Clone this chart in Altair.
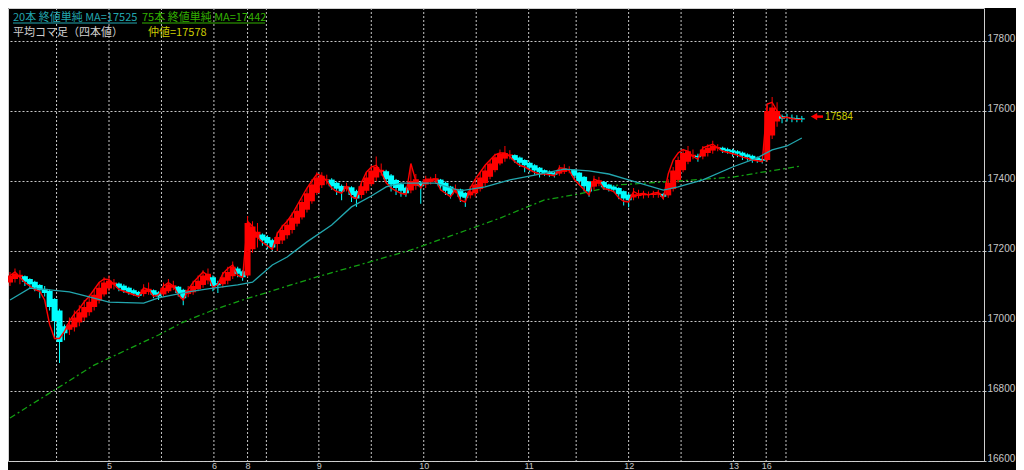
import altair as alt
import pandas as pd

# ---------------- data ----------------
opens = [
    17110, 17120, 17125, 17128, 17120, 17112, 17103, 17092, 17086, 17063,
    17030, 16985, 16975, 16982, 16996, 17010, 17025, 17040, 17058, 17076,
    17093, 17104, 17107, 17101, 17095, 17088, 17083, 17077, 17083, 17088,
    17082, 17076, 17085, 17095, 17098, 17089, 17077, 17082, 17091, 17103,
    17116, 17125, 17108, 17105, 17115, 17128, 17150, 17142, 17130, 17205,
    17238, 17247, 17240, 17231, 17220, 17230, 17245, 17260, 17278, 17296,
    17318, 17342, 17366, 17388, 17402, 17404, 17395, 17386, 17378, 17382,
    17371, 17360, 17372, 17391, 17410, 17425, 17428, 17416, 17403, 17391,
    17381, 17373, 17386, 17395, 17390, 17397, 17401, 17404, 17395, 17384,
    17373, 17376, 17366, 17359, 17365, 17377, 17394, 17412, 17431, 17450,
    17464, 17472, 17474, 17467, 17460, 17452, 17445, 17438, 17431, 17427,
    17424, 17421, 17426, 17431, 17432, 17424, 17412, 17398, 17384, 17392,
    17397, 17390, 17384, 17380, 17371, 17361, 17353, 17357, 17359, 17360,
    17360, 17361, 17363, 17359, 17377, 17403, 17431, 17455, 17470, 17472,
    17470, 17480, 17487, 17493, 17495, 17491, 17488, 17485, 17481, 17476,
    17472, 17467, 17463, 17460, 17530, 17570, 17585, 17582, 17581, 17580, 17579,
]
closes = [
    17130, 17135, 17132, 17112, 17105, 17095, 17088, 17080, 17040, 17000,
    16940, 16965, 16990, 17010, 17025, 17040, 17055, 17075, 17095, 17110,
    17115, 17110, 17095, 17088, 17082, 17078, 17072, 17090, 17092, 17075,
    17070, 17095, 17105, 17102, 17080, 17065, 17088, 17100, 17115, 17130,
    17135, 17100, 17102, 17125, 17140, 17155, 17135, 17125, 17280, 17270,
    17255, 17230, 17222, 17210, 17240, 17260, 17275, 17295, 17315, 17340,
    17365, 17390, 17410, 17415, 17405, 17385, 17378, 17370, 17385, 17360,
    17350, 17385, 17410, 17430, 17440, 17432, 17405, 17390, 17380, 17372,
    17365, 17400, 17405, 17385, 17405, 17405, 17408, 17385, 17372, 17362,
    17378, 17355, 17352, 17370, 17390, 17410, 17430, 17450, 17468, 17478,
    17480, 17476, 17460, 17452, 17445, 17438, 17430, 17425, 17423, 17420,
    17418, 17432, 17436, 17433, 17415, 17400, 17385, 17370, 17400, 17402,
    17382, 17378, 17375, 17362, 17350, 17345, 17362, 17362, 17363, 17362,
    17363, 17365, 17355, 17395, 17430, 17460, 17480, 17485, 17475, 17468,
    17490, 17495, 17500, 17497, 17488, 17485, 17482, 17478, 17472, 17468,
    17462, 17460, 17458, 17600, 17610, 17600, 17578, 17580, 17578, 17577, 17576,
]
highs = [
    17140, 17150, 17145, 17130, 17122, 17115, 17105, 17100, 17090, 17065,
    17035, 16990, 17010, 17030, 17045, 17060, 17075, 17090, 17110, 17125,
    17130, 17120, 17110, 17105, 17098, 17092, 17086, 17105, 17110, 17090,
    17085, 17110, 17120, 17115, 17100, 17092, 17100, 17115, 17130, 17145,
    17150, 17130, 17115, 17140, 17155, 17170, 17155, 17145, 17300, 17285,
    17280, 17250, 17245, 17235, 17255, 17275, 17290, 17310, 17330, 17350,
    17380, 17405, 17425, 17425, 17418, 17408, 17398, 17390, 17395, 17385,
    17375, 17400, 17425, 17445, 17470, 17450, 17432, 17420, 17406, 17395,
    17384, 17440, 17420, 17400, 17415, 17412, 17420, 17406, 17398, 17386,
    17390, 17378, 17368, 17385, 17405, 17425, 17445, 17460, 17478, 17490,
    17500, 17488, 17476, 17470, 17462, 17455, 17448, 17440, 17433, 17430,
    17426, 17445, 17448, 17442, 17434, 17426, 17414, 17400, 17415, 17412,
    17400, 17392, 17388, 17382, 17373, 17365, 17380, 17375, 17372, 17370,
    17372, 17375, 17366, 17405, 17440, 17470, 17490, 17500, 17490, 17478,
    17500, 17505, 17515, 17505, 17498, 17495, 17492, 17488, 17484, 17479,
    17475, 17470, 17466, 17615, 17640, 17625, 17590, 17592, 17590, 17588, 17586,
]
lows = [
    17100, 17110, 17105, 17100, 17095, 17085, 17065, 17070, 17030, 16950,
    16880, 16945, 16960, 16970, 16985, 17000, 17015, 17030, 17050, 17070,
    17085, 17090, 17085, 17080, 17075, 17072, 17066, 17070, 17075, 17065,
    17060, 17070, 17080, 17088, 17070, 17045, 17068, 17075, 17085, 17095,
    17105, 17085, 17080, 17095, 17105, 17120, 17125, 17115, 17125, 17195,
    17210, 17215, 17205, 17200, 17200, 17220, 17235, 17250, 17270, 17290,
    17310, 17335, 17360, 17380, 17390, 17375, 17360, 17345, 17370, 17340,
    17326, 17350, 17365, 17385, 17400, 17415, 17395, 17370, 17360, 17355,
    17355, 17365, 17375, 17335, 17380, 17390, 17392, 17375, 17360, 17350,
    17365, 17340, 17326, 17350, 17355, 17370, 17385, 17405, 17425, 17445,
    17455, 17462, 17452, 17440, 17425, 17425, 17418, 17410, 17415, 17412,
    17410, 17415, 17420, 17422, 17405, 17390, 17370, 17355, 17375, 17385,
    17375, 17370, 17368, 17348, 17330, 17325, 17345, 17350, 17350, 17352,
    17352, 17352, 17348, 17352, 17370, 17395, 17425, 17448, 17462, 17455,
    17462, 17470, 17478, 17485, 17480, 17478, 17470, 17468, 17460, 17458,
    17452, 17452, 17450, 17455, 17520, 17555, 17565, 17570, 17568, 17568, 17568,
]
# thin red line (raw price line)
price_line = [
    17130, 17140, 17125, 17110, 17100, 17090, 17085, 17060, 16990, 16950,
    16950, 16970, 17000, 17020, 17035, 17055, 17070, 17090, 17110, 17120,
    17118, 17105, 17090, 17085, 17080, 17075, 17070, 17095, 17090, 17070,
    17075, 17100, 17110, 17100, 17075, 17060, 17090, 17110, 17125, 17140,
    17130, 17095, 17105, 17135, 17150, 17160, 17130, 17125, 17285, 17270,
    17240, 17225, 17215, 17205, 17250, 17270, 17285, 17305, 17330, 17355,
    17380, 17400, 17420, 17415, 17400, 17380, 17370, 17365, 17385, 17355,
    17350, 17395, 17425, 17440, 17445, 17425, 17395, 17380, 17372, 17365,
    17362, 17450, 17400, 17380, 17405, 17405, 17405, 17375, 17365, 17355,
    17375, 17345, 17340, 17380, 17405, 17425, 17445, 17460, 17475, 17480,
    17480, 17470, 17455, 17445, 17440, 17432, 17425, 17420, 17420, 17418,
    17415, 17438, 17436, 17430, 17405, 17390, 17375, 17360, 17405, 17400,
    17378, 17375, 17370, 17352, 17342, 17340, 17370, 17362, 17365, 17360,
    17365, 17368, 17350, 17420, 17460, 17480, 17490, 17485, 17470, 17462,
    17495, 17500, 17505, 17495, 17485, 17482, 17478, 17474, 17468, 17465,
    17460, 17458, 17455, 17620, 17625, 17600, 17580, 17582, 17578, 17576, 17576,
]

ma20_bar = [0, 4, 8, 12, 16, 20, 27, 30, 36, 41, 46, 49, 53, 56, 60, 65, 69, 73, 76, 79,
            86, 91, 96, 101, 106, 112, 117, 121, 125, 132, 135, 140, 146, 151, 154, 157, 160]
ma20_val = [17060, 17094, 17089, 17083, 17069, 17054, 17051, 17066, 17083, 17094, 17103, 17111,
            17160, 17183, 17226, 17274, 17326, 17357, 17383, 17394, 17394, 17372, 17383, 17403,
            17417, 17434, 17429, 17420, 17403, 17374, 17383, 17403, 17440, 17466, 17489, 17500, 17523]

ma75_bar = [0, 9, 17, 30, 35, 41, 47, 62, 72, 81, 89, 99, 108, 115, 123, 135, 146, 151, 160]
ma75_val = [16723, 16803, 16874, 16960, 16997, 17031, 17060, 17126, 17166, 17203, 17243, 17294,
            17346, 17363, 17389, 17400, 17411, 17423, 17443]

grid_bars = [9.4, 20, 30.6, 41.2, 48, 51.8, 62.4, 73, 83.6, 94.2, 104.8, 114.4, 125, 135.6,
             146.2, 152.8, 156.8]
day_bars = [20, 41.2, 48, 62.4, 83.6, 104.8, 125, 146.2, 152.8]
day_labels = ["5", "6", "8", "9", "10", "11", "12", "13", "16"]
price_ticks = [16600, 16800, 17000, 17200, 17400, 17600, 17800]

ma20_last = 17525
ma75_last = 17442
mid_price = 17578
last_price = [17584]

# ---------------- styling ----------------
W, H = 976, 453
X_DOMAIN = [0.6, 195.8]
Y_DOMAIN = [16600, 17894.3]
NARROW = "Liberation Sans Narrow, Liberation Sans, Arial, sans-serif"
CJK = "Noto Sans CJK JP"
AXIS_GRAY = "#C8C8C8"
TEAL = "#22A6AE"
GREEN_TXT = "#33B000"
GREEN_LINE = "#12A012"
YELLOW = "#CCCC00"

label_expr = ("[" + ",".join(f"'{t}'" for t in day_labels) + "][indexof(["
              + ",".join(str(v) for v in day_bars) + "], datum.value)]")

x_axis = alt.Axis(values=day_bars, labelExpr=label_expr, grid=False, ticks=False, domain=False,
                  labelPadding=0, labelFontSize=9, labelColor=AXIS_GRAY, labelFont=NARROW,
                  labelBaseline="top", labelOverlap=False, title=None)
y_axis = alt.Axis(orient="right", values=price_ticks, grid=True, gridColor=AXIS_GRAY,
                  gridDash=[2, 2], gridWidth=1, domain=False, tickSize=2, tickColor=AXIS_GRAY,
                  labelColor=AXIS_GRAY, labelFont=NARROW, labelFontSize=10,
                  labelBaseline="alphabetic", labelPadding=1, format="d", title=None)


def xenc(field):
    return alt.X(f"{field}:Q", scale=alt.Scale(domain=X_DOMAIN, nice=False, zero=False), axis=x_axis)


def yenc(field):
    return alt.Y(f"{field}:Q", scale=alt.Scale(domain=Y_DOMAIN, nice=False, zero=False), axis=y_axis)


bars = pd.DataFrame({
    "i": list(range(len(closes))), "o": opens, "h": highs, "l": lows, "c": closes, "r": price_line,
})
ma20 = pd.DataFrame({"i": ma20_bar, "v": ma20_val})
ma75 = pd.DataFrame({"i": ma75_bar, "v": ma75_val})
grid = pd.DataFrame({"g": grid_bars})
last = pd.DataFrame({"p": last_price})
one = pd.DataFrame({"a": [0]})

dir_color = alt.Color("d:N", scale=alt.Scale(domain=["up", "down"], range=["#FF0000", "#00FFFF"]),
                      legend=None)

vgrid = alt.Chart(grid).mark_rule(color=AXIS_GRAY, strokeDash=[2, 2], strokeWidth=1).encode(
    x=xenc("g"))

line75 = alt.Chart(ma75).mark_line(color=GREEN_LINE, strokeWidth=1.3, strokeDash=[6, 3, 2, 3],
                                   clip=True).encode(x=xenc("i"), y=yenc("v"))

base = alt.Chart(bars).transform_calculate(d="datum.c >= datum.o ? 'up' : 'down'")
wicks = base.mark_rule(strokeWidth=1, clip=True).encode(x=xenc("i"), y=yenc("l"), y2="h",
                                                          color=dir_color)
bodies = base.mark_bar(size=6, clip=True).encode(x=xenc("i"), y=yenc("o"), y2="c", color=dir_color)

redline = alt.Chart(bars).mark_line(color="#FF0000", strokeWidth=1.4, clip=True).encode(
    x=xenc("i"), y=yenc("r"))

line20 = alt.Chart(ma20).mark_line(color=TEAL, strokeWidth=1.3, clip=True).encode(
    x=xenc("i"), y=yenc("v"))

arrow_head = alt.Chart(last).mark_point(shape="triangle-left", filled=True, size=55, color="#FF0000",
                                        opacity=1).encode(x=alt.value(806), y=yenc("p"))
arrow_shaft = alt.Chart(last).mark_rule(color="#FF0000", strokeWidth=2.5).encode(
    x=alt.value(806), x2=alt.value(815), y=yenc("p"))
arrow_text = alt.Chart(last).mark_text(align="left", baseline="middle", color=YELLOW, font=NARROW,
                                       fontSize=10).encode(x=alt.value(817), y=yenc("p"),
                                                           text="p:Q")


def legend_text(txt, color, x, y):
    return alt.Chart(pd.DataFrame({"t": [txt]})).mark_text(
        align="left", baseline="alphabetic", font=CJK, fontSize=11, color=color
    ).encode(x=alt.value(x), y=alt.value(y), text="t:N")


def underline(color, x1, x2, y):
    return alt.Chart(one).mark_rule(color=color, strokeWidth=1).encode(
        x=alt.value(x1), x2=alt.value(x2), y=alt.value(y))


legends = [
    legend_text(f"20本 終値単純 MA={ma20_last}", TEAL, 5, 13),
    underline(TEAL, 5, 129, 15),
    legend_text(f"75本 終値単純 MA={ma75_last}", GREEN_TXT, 134, 13),
    underline(GREEN_TXT, 134, 257, 15),
    legend_text("平均コマ足（四本値）", "#D0D0D0", 5, 28),
    legend_text(f"仲値={mid_price}", YELLOW, 140, 28),
]

chart = alt.layer(
    vgrid, line75, wicks, bodies, redline, line20, arrow_shaft, arrow_head, arrow_text, *legends
).properties(
    width=W, height=H,
    padding={"left": 0, "top": 0, "right": 32, "bottom": 12},
    autosize=alt.AutoSizeParams(type="none"),
    background="black",
).configure_view(stroke="#D0D0D0", strokeWidth=1, fill="black")

chart.save("out.html", embed_options={"renderer": "svg", "actions": False})
